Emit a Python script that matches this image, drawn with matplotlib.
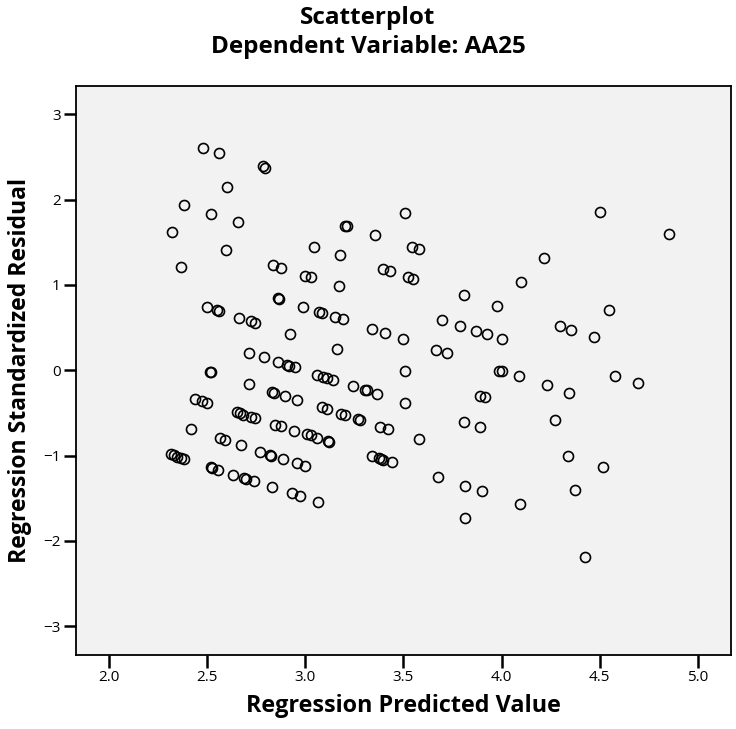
import numpy as np
import matplotlib
matplotlib.use("Agg")
import matplotlib.pyplot as plt

# Predicted values and standardized residuals of the regression
pred = [
    2.479, 2.561, 2.782, 2.796, 2.602, 2.379, 2.520, 2.656, 2.318, 2.597,
    2.364, 3.202, 3.214, 3.042, 3.176, 2.833, 2.876, 2.998, 3.029, 3.170,
    2.858, 2.866,
    2.497, 2.547, 2.557, 2.661, 2.723, 2.743, 2.989, 3.071, 3.083, 3.152,
    3.190, 2.920, 3.161, 2.714, 2.789, 2.859, 2.908, 2.918, 2.945, 3.058,
    3.088, 3.109, 3.139, 2.515, 2.519, 2.711, 2.830, 2.841, 2.897, 2.959,
    3.085, 3.110, 3.183, 3.203, 2.435, 2.471, 2.497, 2.650, 2.666, 2.683,
    2.723, 2.741, 2.417, 2.565, 2.592, 2.670, 2.847, 2.876, 2.940, 3.007,
    3.030, 3.058, 3.114, 3.120, 2.313, 2.330, 2.347, 2.364, 2.382, 2.516,
    2.522, 2.556, 2.631, 2.689, 2.695, 2.736, 2.770, 2.820, 2.826, 2.887,
    2.957, 2.996, 2.828, 2.933, 2.972, 3.064,
    3.506, 3.356, 3.542, 3.579, 3.396, 3.431, 3.522, 3.550, 4.098, 3.810,
    3.979,
    3.698, 3.788, 3.868, 3.925, 4.004, 3.340, 3.407, 3.496, 3.666, 3.724,
    3.508, 3.987, 4.000, 4.088, 3.243, 3.304, 3.316, 3.364, 3.506, 3.890,
    3.916, 3.270, 3.278, 3.379, 3.423, 3.579, 3.809, 3.889, 3.341, 3.377,
    3.387, 3.394, 3.443, 3.678, 3.814, 3.899, 4.096, 3.815,
    4.501, 4.854, 4.218, 4.550, 4.298, 4.354, 4.470, 4.230, 4.346, 4.579,
    4.696, 4.271, 4.338, 4.519, 4.373, 4.426,
]
resid = [
    2.609, 2.550, 2.391, 2.375, 2.148, 1.941, 1.835, 1.734, 1.617, 1.409,
    1.210, 1.694, 1.691, 1.448, 1.351, 1.234, 1.202, 1.108, 1.089, 0.984,
    0.846, 0.840,
    0.745, 0.700, 0.694, 0.616, 0.573, 0.557, 0.745, 0.686, 0.674, 0.624,
    0.597, 0.424, 0.245, 0.205, 0.151, 0.100, 0.057, 0.049, 0.034, -0.053,
    -0.076, -0.091, -0.111, -0.015, -0.025, -0.165, -0.252, -0.264, -0.306, -0.349,
    -0.435, -0.458, -0.514, -0.529, -0.334, -0.358, -0.381, -0.490, -0.502, -0.522,
    -0.545, -0.557, -0.689, -0.799, -0.822, -0.877, -0.639, -0.658, -0.709, -0.752,
    -0.763, -0.795, -0.833, -0.843, -0.983, -0.998, -1.014, -1.026, -1.041, -1.134,
    -1.144, -1.170, -1.225, -1.259, -1.269, -1.299, -0.956, -0.989, -0.999, -1.041,
    -1.092, -1.120, -1.370, -1.443, -1.475, -1.542,
    1.847, 1.589, 1.448, 1.421, 1.187, 1.163, 1.093, 1.069, 1.038, 0.878,
    0.753,
    0.589, 0.522, 0.463, 0.421, 0.362, 0.483, 0.436, 0.366, 0.240, 0.198,
    -0.013, -0.004, -0.009, -0.072, -0.189, -0.229, -0.236, -0.276, -0.381, -0.299,
    -0.314, -0.576, -0.584, -0.663, -0.693, -0.810, -0.611, -0.666, -1.006, -1.030,
    -1.041, -1.049, -1.080, -1.256, -1.358, -1.420, -1.565, -1.733,
    1.855, 1.594, 1.319, 0.702, 0.515, 0.471, 0.389, -0.177, -0.264, -0.064,
    -0.154, -0.580, -1.003, -1.135, -1.401, -2.182,
]

xticks = [2.0, 2.5, 3.0, 3.5, 4.0, 4.5, 5.0]
yticks = [-3, -2, -1, 0, 1, 2, 3]

plt.rcParams['font.family'] = ['Open Sans', 'DejaVu Sans']

fig = plt.figure(figsize=(7.36, 7.29), dpi=100)
ax = fig.add_axes([76 / 736, 1 - 654.5 / 729, 655 / 736, 568.5 / 729])
ax.set_facecolor("#f2f2f2")

ax.plot(pred, resid, linestyle="none", marker="o", markersize=7.2,
        markerfacecolor="none", markeredgecolor="black", markeredgewidth=1.2)

ax.set_xlim(1.83, 5.17)
ax.set_ylim(-3.33, 3.33)
ax.set_xticks(xticks)
ax.set_xticklabels([f"{v:.1f}" for v in xticks])
ax.set_yticks(yticks)
ax.set_yticklabels([str(v).replace("-", "\u2212") for v in yticks])
ax.tick_params(axis="both", direction="out", length=9, width=1.8,
               labelsize=11, color="black")
ax.tick_params(axis="x", pad=2)
ax.tick_params(axis="y", pad=2)
for s in ax.spines.values():
    s.set_linewidth(1.3)
    s.set_color("black")

ax.set_xlabel("Regression Predicted Value", fontsize=16.8, fontweight="bold",
              labelpad=7)
ax.set_ylabel("Regression Standardized Residual", fontsize=16.6,
              fontweight="bold", labelpad=8)

fig.text(0.5, 1 - 18 / 729, "Scatterplot", ha="center", va="center",
         fontsize=17.5, fontweight="bold")
fig.text(0.5, 1 - 47 / 729, "Dependent Variable: AA25", ha="center",
         va="center", fontsize=17.5, fontweight="bold")

fig.savefig("out.png", dpi=100)
